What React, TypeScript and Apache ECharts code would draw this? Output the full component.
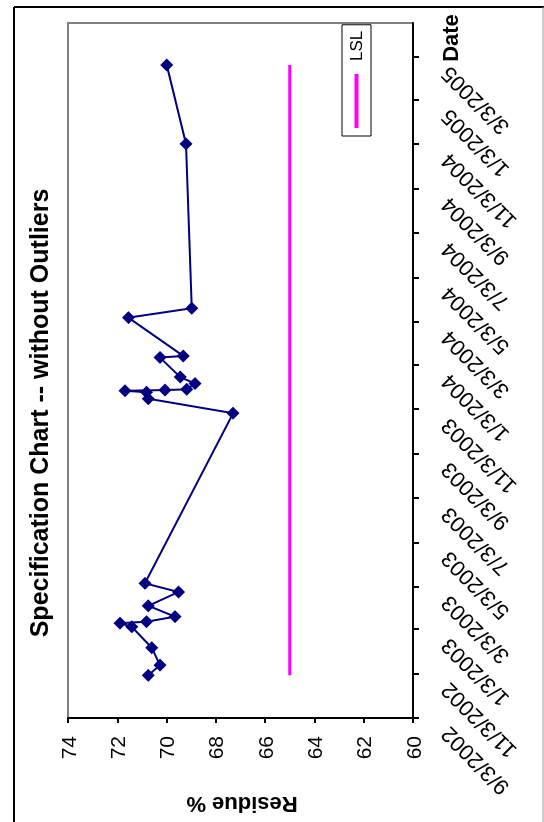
import React, { useEffect, useRef } from "react";
import * as echarts from "echarts";

// Sample dates (YYYY-MM-DD) and residue values (%)
const sampleDates = [
  "2002-11-01", "2002-11-15", "2002-12-09", "2003-01-07", "2003-01-12",
  "2003-01-14", "2003-01-21", "2003-02-05", "2003-02-24", "2003-03-08",
  "2003-10-29", "2003-11-18", "2003-11-27", "2003-11-29", "2003-11-30",
  "2003-12-01", "2003-12-09", "2003-12-18", "2004-01-14", "2004-01-16",
  "2004-03-09", "2004-03-22", "2004-11-04", "2005-02-21",
];
const residue = [
  70.74, 70.27, 70.6, 71.41, 71.89,
  70.81, 69.66, 70.74, 69.52, 70.88,
  67.3, 70.74, 70.81, 71.69, 70.06,
  69.18, 68.85, 69.45, 70.27, 69.32,
  71.55, 68.98, 69.21, 69.99,
];
const lslValue = 65;
const lslDates = ["2002-11-01", "2005-02-21"];

const tickLabels = [
  "9/3/2002", "11/3/2002", "1/3/2003", "3/3/2003", "5/3/2003", "7/3/2003",
  "9/3/2003", "11/3/2003", "1/3/2004", "3/3/2004", "5/3/2004", "7/3/2004",
  "9/3/2004", "11/3/2004", "1/3/2005", "3/3/2005",
];
const axisMinDate = "2002-09-03";
const axisMaxDate = "2005-04-20";
const valueTicks = { min: 60, max: 74, interval: 2 };

const DAY = 86400000;
// day number (UTC based, integer days since epoch)
const parseIso = (s: string) => {
  const [y, m, d] = s.split("-").map(Number);
  return Date.UTC(y, m - 1, d) / DAY;
};
const parseUs = (s: string) => {
  const [m, d, y] = s.split("/").map(Number);
  return Date.UTC(y, m - 1, d) / DAY;
};

const FONT = "'Liberation Sans', Arial, sans-serif";

export default function App() {
  const ref = useRef<HTMLDivElement>(null);

  useEffect(() => {
    if (!ref.current) return;
    const chart = echarts.init(ref.current, null, { renderer: "svg" });
    const tickDays = tickLabels.map(parseUs);
    const fmt = (v: number) => {
      const i = tickDays.findIndex((t) => Math.abs(t - v) < 0.5);
      return i >= 0 ? tickLabels[i] : "";
    };
    chart.setOption({
      animation: false,
      backgroundColor: "#ffffff",
      textStyle: { fontFamily: FONT },
      grid: {
        left: 104,
        top: 68,
        width: 695,
        height: 345,
        show: true,
        borderColor: "#808080",
        borderWidth: 2,
        backgroundColor: "transparent",
      },
      legend: {
        data: ["LSL"],
        left: 686,
        top: 342,
        orient: "horizontal",
        icon: "rect",
        itemWidth: 54,
        itemHeight: 4,
        itemGap: 0,
        borderColor: "#000",
        borderWidth: 1,
        backgroundColor: "#fff",
        padding: [6, 6, 6, 8],
        textStyle: { fontSize: 17, color: "#000", fontFamily: FONT, padding: [0, 0, 0, 8] },
      },
      xAxis: {
        type: "value",
        min: parseIso(axisMinDate),
        max: parseIso(axisMaxDate),
        axisLine: { show: true, lineStyle: { color: "#000", width: 2 } },
        axisTick: {
          show: true,
          customValues: tickDays,
          length: 6,
          lineStyle: { color: "#000", width: 2 },
        },
        axisLabel: {
          customValues: tickDays,
          rotate: 45,
          margin: 19,
          padding: [0, 18, 0, 0],
          fontSize: 22,
          color: "#000",
          fontFamily: FONT,
          formatter: (v: number) => fmt(v),
        },
        splitLine: { show: false },
      },
      yAxis: {
        type: "value",
        min: valueTicks.min,
        max: valueTicks.max,
        interval: valueTicks.interval,
        axisLine: { show: true, lineStyle: { color: "#000", width: 2 } },
        axisTick: { show: true, length: 5, lineStyle: { color: "#000", width: 2 } },
        axisLabel: { fontSize: 21, margin: 18, color: "#000", fontFamily: FONT },
        splitLine: { show: false },
      },
      series: [
        {
          name: "Residue",
          type: "line",
          data: sampleDates.map((d, i) => [parseIso(d), residue[i]]),
          symbol: "diamond",
          symbolSize: 13,
          lineStyle: { color: "#000080", width: 2 },
          itemStyle: { color: "#000080" },
          z: 3,
        },
        {
          name: "LSL",
          type: "line",
          data: lslDates.map((d) => [parseIso(d), lslValue]),
          symbol: "none",
          lineStyle: { color: "#ff00ff", width: 3 },
          itemStyle: { color: "#ff00ff" },
          z: 2,
        },
      ],
      graphic: [
        { type: "line", shape: { x1: -10, y1: 14, x2: 815, y2: 14 }, style: { stroke: "#000", lineWidth: 2 }, silent: true },
        { type: "line", shape: { x1: 815, y1: 14, x2: 815, y2: 544 }, style: { stroke: "#000", lineWidth: 2 }, silent: true },
        { type: "line", shape: { x1: -10, y1: 543, x2: 815, y2: 543 }, style: { stroke: "#999", lineWidth: 1 }, silent: true },
        {
          type: "text",
          x: 409,
          y: 39,
          style: {
            text: "Specification Chart -- without Outliers",
            fontSize: 25,
            fontWeight: "bold",
            fontFamily: FONT,
            fill: "#000",
            textAlign: "center",
            textVerticalAlign: "middle",
          },
          silent: true,
        },
        {
          type: "text",
          x: 17,
          y: 242,
          rotation: Math.PI / 2,
          style: {
            text: "Residue %",
            fontSize: 22,
            fontWeight: "bold",
            fontFamily: FONT,
            fill: "#000",
            textAlign: "center",
            textVerticalAlign: "middle",
          },
          silent: true,
        },
        {
          type: "text",
          x: 784,
          y: 450,
          style: {
            text: "Date",
            fontSize: 22,
            fontWeight: "bold",
            fontFamily: FONT,
            fill: "#000",
            textAlign: "center",
            textVerticalAlign: "middle",
          },
          silent: true,
        },
      ],
    });
    return () => chart.dispose();
  }, []);

  return (
    <div
      style={{
        position: "fixed",
        left: 0,
        top: 0,
        width: 822,
        height: 544,
        transformOrigin: "0 0",
        transform: "translateY(822px) rotate(-90deg)",
        background: "#fff",
      }}
    >
      <div ref={ref} style={{ width: 822, height: 544 }} />
    </div>
  );
}
